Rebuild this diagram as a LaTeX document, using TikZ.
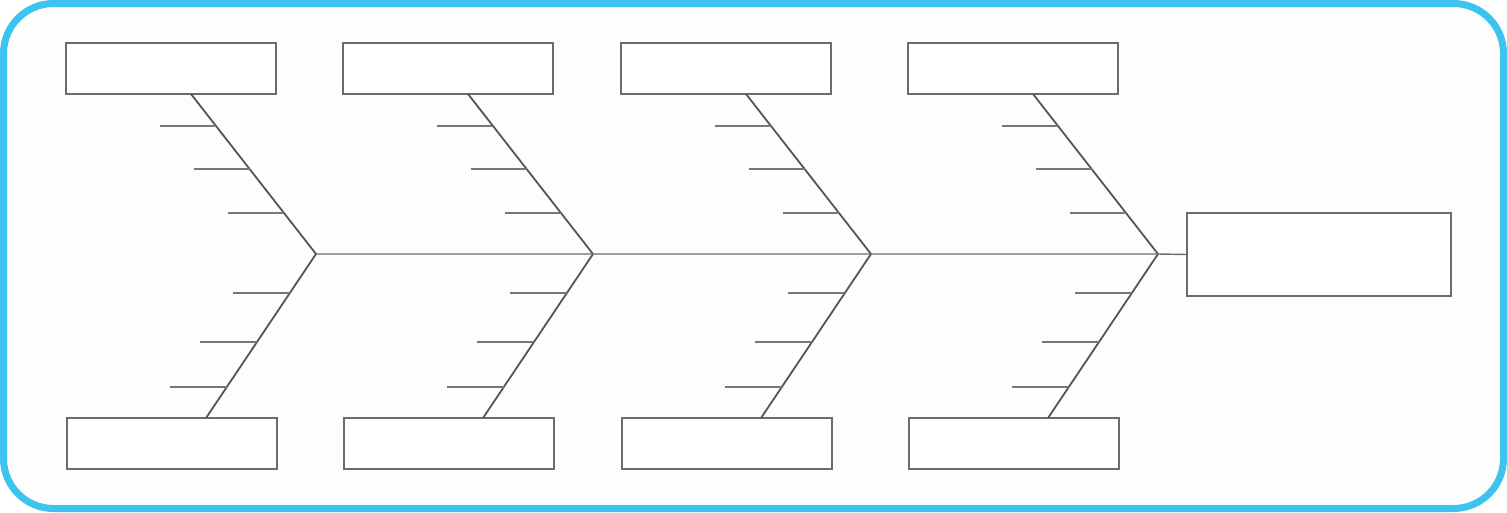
\documentclass[tikz,border=0pt]{standalone}
\usetikzlibrary{calc}
\definecolor{framecol}{HTML}{3CC4EE}
\definecolor{boxline}{HTML}{6C6C6C}
\definecolor{bonecol}{HTML}{555555}
\definecolor{tickcol}{HTML}{777777}
\definecolor{spinecol}{HTML}{6A6A6A}
\definecolor{bgcol}{HTML}{FDFDFD}
\begin{document}
\begin{tikzpicture}[x=1pt,y=-1pt,
  causebox/.style={draw=boxline, line width=1.8pt, fill=white, minimum width=210pt, minimum height=51pt, inner sep=0pt, outer sep=0pt},
  effectbox/.style={draw=boxline, line width=1.8pt, fill=white, minimum width=264pt, minimum height=83pt, inner sep=0pt, outer sep=0pt},
  bone/.style={draw=bonecol, line width=1.8pt},
  ticket/.style={draw=tickcol, line width=1.4pt},
  spineline/.style={draw=spinecol, line width=1.4pt}]
\useasboundingbox (0,0) rectangle (1507,512);
\fill[white] (0,0) rectangle (1507,512);
\draw[framecol, line width=7pt, fill=bgcol, rounded corners=50pt] (3.5,3.5) rectangle (1503.5,508.5);
% effect box
\node[effectbox] (effect) at (1319,254.5) {};
\foreach \i/\jx in {1/316,2/593,3/871,4/1158}{
  \coordinate (j\i) at (\jx,254);
  \node[causebox] (t\i) at (\jx-145,68.5) {};
  \node[causebox] (b\i) at (\jx-144,443.5) {};
  \coordinate (ta\i) at ([xshift=20pt]t\i.south);
  \coordinate (ba\i) at ([xshift=34pt]b\i.north);
  \draw[bone] (ta\i) -- (j\i);
  \draw[bone] (j\i) -- (ba\i);
  \foreach \f in {0.2,0.469,0.744}{
    \draw[ticket] ($(ta\i)!\f!(j\i)$) -- +(-56,0);
  }
  \foreach \f in {0.238,0.537,0.811}{
    \draw[ticket] ($(j\i)!\f!(ba\i)$) -- +(-57,0);
  }
}
\draw[spineline] (j1) -- (j2) -- (j3) -- (j4) -- (effect.west);
\end{tikzpicture}
\end{document}
